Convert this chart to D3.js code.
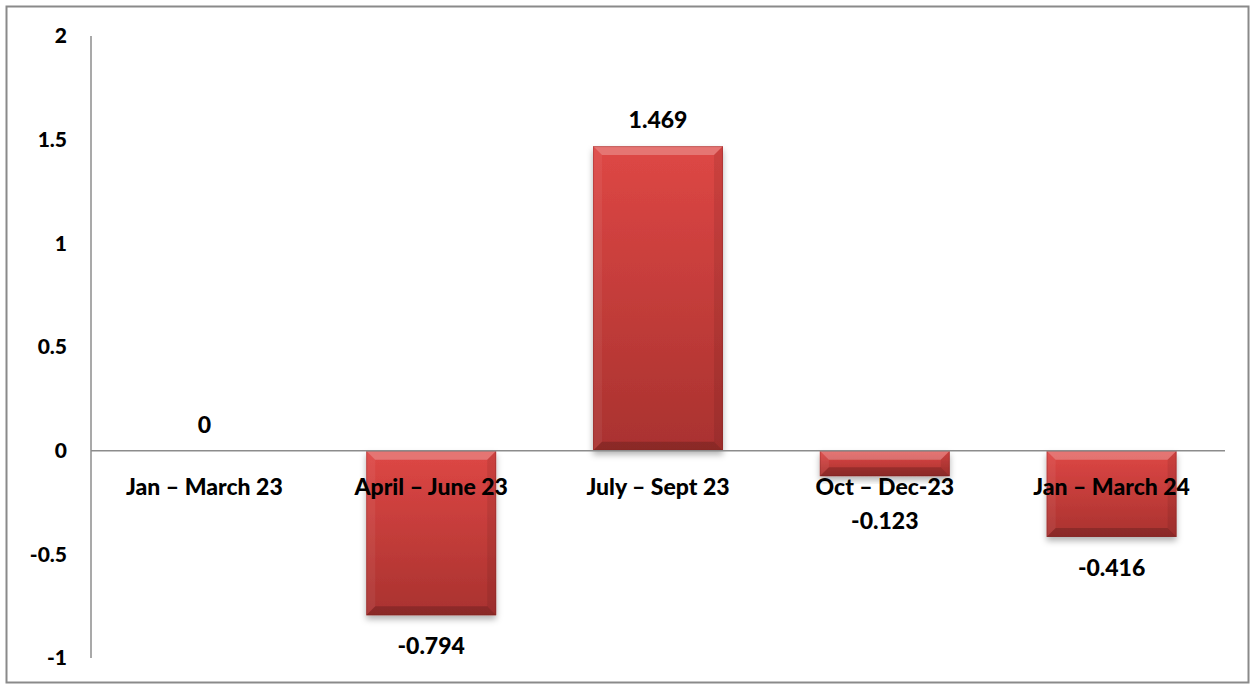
<!DOCTYPE html>
<html>
<head>
<meta charset="utf-8">
<script src="https://cdn.jsdelivr.net/npm/d3@7"></script>
<style>
  html, body { margin: 0; padding: 0; background: #fff; }
  svg { display: block; }
  text { font-family: Lato, "Open Sans", sans-serif; font-weight: 900; fill: #000; }
</style>
</head>
<body>
<svg id="chart" width="1255" height="689"></svg>
<script>
// Quarterly change values
const categories = ["Jan \u2013 March 23", "April \u2013 June 23", "July \u2013 Sept 23", "Oct \u2013 Dec-23", "Jan \u2013 March 24"];
const values = [0, -0.794, 1.469, -0.123, -0.416];
const valueLabels = ["0", "-0.794", "1.469", "-0.123", "-0.416"];
const yTicks = [2, 1.5, 1, 0.5, 0, -0.5, -1];

const svg = d3.select("#chart");
const W = 1255, H = 689;
const plotLeft = 91, plotRight = 1225, plotTop = 36, plotBottom = 658;

// frame
svg.append("rect")
  .attr("x", 6.5).attr("y", 6.5).attr("width", W - 13).attr("height", H - 13)
  .attr("fill", "#fff").attr("stroke", "#8a8a8a").attr("stroke-width", 2);

const x = d3.scaleBand().domain(categories).range([plotLeft, plotRight]).paddingInner(0.427).paddingOuter(0.2135);
const y = d3.scaleLinear().domain([-1, 2]).range([plotBottom, plotTop]);

const defs = svg.append("defs");
const grad = defs.append("linearGradient").attr("id", "barFill").attr("x1", 0).attr("y1", 0).attr("x2", 0).attr("y2", 1);
grad.append("stop").attr("offset", "0%").attr("stop-color", "#de4745");
grad.append("stop").attr("offset", "100%").attr("stop-color", "#a9322f");
const sh = defs.append("filter").attr("id", "shadow").attr("x", "-20%").attr("y", "-20%").attr("width", "140%").attr("height", "150%");
sh.append("feDropShadow").attr("dx", 0).attr("dy", 4).attr("stdDeviation", 3).attr("flood-color", "#000").attr("flood-opacity", 0.3);

// y axis line and tick labels
svg.append("line").attr("x1", plotLeft).attr("x2", plotLeft).attr("y1", plotTop).attr("y2", plotBottom)
  .attr("stroke", "#8c8c8c").attr("stroke-width", 1.5);
svg.append("g").selectAll("text").data(yTicks).join("text")
  .attr("x", 67).attr("y", d => y(d)).attr("dy", "0.35em").attr("text-anchor", "end")
  .attr("font-size", 21).text(d => d);

// bars with bevelled edges
const bars = svg.append("g").selectAll("g").data(values.map((v, i) => ({v, c: categories[i]})))
  .join("g").filter(d => d.v !== 0);
bars.each(function(d) {
  const g = d3.select(this);
  const x0 = x(d.c), w = x.bandwidth();
  const y0 = y(Math.max(0, d.v)), h = Math.abs(y(d.v) - y(0));
  const b = Math.min(9, h / 2.5);
  g.append("rect").attr("x", x0).attr("y", y0).attr("width", w).attr("height", h)
    .attr("fill", "url(#barFill)").attr("filter", "url(#shadow)");
  const x1 = x0 + w, y1 = y0 + h;
  const poly = (pts, fill) => g.append("polygon").attr("points", pts.map(p => p.join(",")).join(" ")).attr("fill", fill);
  poly([[x0, y0], [x1, y0], [x1 - b, y0 + b], [x0 + b, y0 + b]], "rgba(255,255,255,0.25)");
  poly([[x0, y0], [x0 + b, y0 + b], [x0 + b, y1 - b], [x0, y1]], "rgba(255,255,255,0.06)");
  poly([[x1, y0], [x1, y1], [x1 - b, y1 - b], [x1 - b, y0 + b]], "rgba(0,0,0,0.08)");
  poly([[x0, y1], [x0 + b, y1 - b], [x1 - b, y1 - b], [x1, y1]], "rgba(0,0,0,0.18)");
  g.append("rect").attr("x", x0 + 0.5).attr("y", y0 + 0.5).attr("width", w - 1).attr("height", h - 1)
    .attr("fill", "none").attr("stroke", "rgba(120,30,30,0.3)").attr("stroke-width", 1);
});

// zero line
svg.append("line").attr("x1", plotLeft).attr("x2", plotRight).attr("y1", y(0)).attr("y2", y(0))
  .attr("stroke", "#8c8c8c").attr("stroke-width", 1.5);

// category labels
svg.append("g").selectAll("text").data(categories).join("text")
  .attr("x", d => x(d) + x.bandwidth() / 2).attr("y", y(0) + 36).attr("dy", "0.35em")
  .attr("text-anchor", "middle").attr("font-size", 23).text(d => d);

// value labels: above positive bars, below negative bars, clear of category labels
svg.append("g").selectAll("text").data(values).join("text")
  .attr("x", (d, i) => x(categories[i]) + x.bandwidth() / 2)
  .attr("y", d => d >= 0 ? y(d) - 26 : Math.max(y(d) + 31, y(0) + 70))
  .attr("dy", "0.35em").attr("text-anchor", "middle").attr("font-size", 23)
  .text((d, i) => valueLabels[i]);
</script>
</body>
</html>
